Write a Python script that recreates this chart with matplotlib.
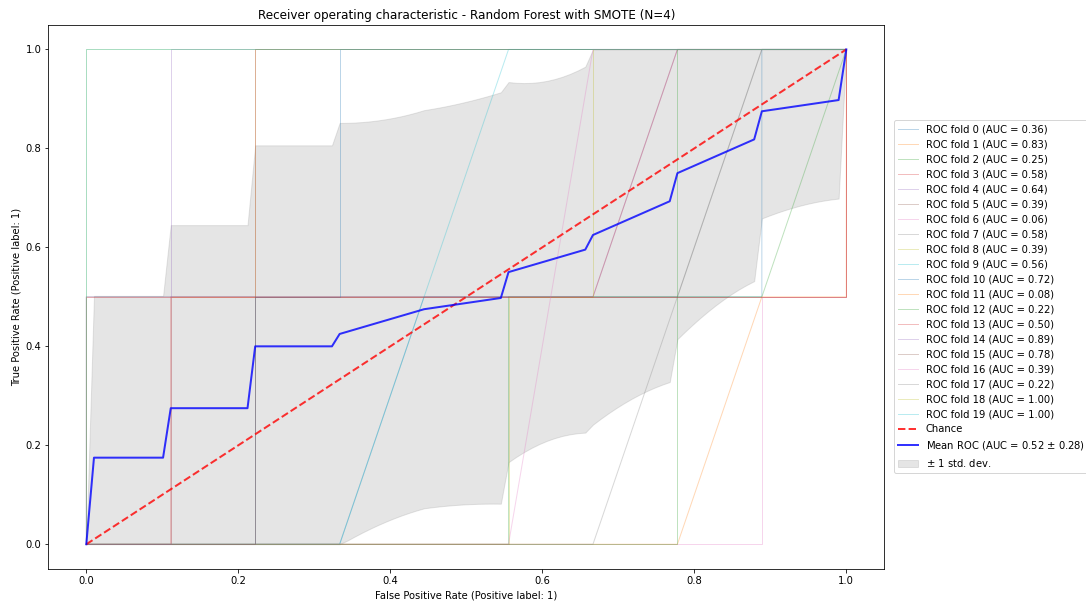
import numpy as np
import matplotlib
import matplotlib.pyplot as plt

matplotlib.use('Agg')

# ROC points of every fold (9 negatives, 2 positives per fold)
# fpr is given as number of negatives passed (divided by 9 below)
fold_fpr9 = [
    [0, 3, 4, 8, 8, 9],      # fold 0
    [0, 1, 1, 2, 2, 9],      # fold 1
    [0, 5, 5, 8, 9],         # fold 2
    [0, 1, 1, 6, 7, 9],      # fold 3
    [0, 0, 6, 7, 9],         # fold 4
    [0, 2, 2, 9, 9],         # fold 5
    [0, 8, 8, 9, 9],         # fold 6
    [0, 0, 7, 8, 9],         # fold 7
    [0, 5, 5, 6, 6, 9],      # fold 8
    [0, 3, 5, 9],            # fold 9
    [0, 2, 2, 3, 3, 9],      # fold 10
    [0, 7, 8, 9, 9],         # fold 11
    [0, 7, 7, 9],            # fold 12
    [0, 0, 9, 9],            # fold 13
    [0, 1, 1, 9],            # fold 14
    [0, 2, 2, 9],            # fold 15
    [0, 5, 6, 9],            # fold 16
    [0, 6, 8, 9],            # fold 17
    [0, 0, 9],               # fold 18
    [0, 0, 9],               # fold 19
]
fold_tpr = [
    [0, 0, 0.5, 0.5, 1, 1],
    [0, 0, 0.5, 0.5, 1, 1],
    [0, 0, 0.5, 0.5, 1],
    [0, 0, 0.5, 0.5, 1, 1],
    [0, 0.5, 0.5, 1, 1],
    [0, 0, 0.5, 0.5, 1],
    [0, 0, 0.5, 0.5, 1],
    [0, 0.5, 0.5, 1, 1],
    [0, 0, 0.5, 0.5, 1, 1],
    [0, 0, 1, 1],
    [0, 0, 0.5, 0.5, 1, 1],
    [0, 0, 0.5, 0.5, 1],
    [0, 0, 1, 1],
    [0, 0.5, 0.5, 1],
    [0, 0, 1, 1],
    [0, 0, 1, 1],
    [0, 0, 1, 1],
    [0, 0, 1, 1],
    [0, 1, 1],
    [0, 1, 1],
]

fig = plt.figure(figsize=(1086 / 72, 605 / 72), dpi=72)
ax = fig.add_axes([48.3 / 1086, 1 - 569 / 605, 836 / 1086, 544.3 / 605])

mean_fpr = np.linspace(0, 1, 100)
tprs = []
aucs = []
for i in range(len(fold_tpr)):
    fpr = np.array(fold_fpr9[i]) / 9
    tpr = np.array(fold_tpr[i], dtype=float)
    roc_auc = np.trapezoid(tpr, fpr)
    ax.plot(fpr, tpr, lw=1, alpha=0.3, label='ROC fold %d (AUC = %0.2f)' % (i, roc_auc))
    interp_tpr = np.interp(mean_fpr, fpr, tpr)
    interp_tpr[0] = 0.0
    tprs.append(interp_tpr)
    aucs.append(roc_auc)

ax.plot([0, 1], [0, 1], linestyle='--', lw=2, color='r', label='Chance', alpha=.8)

mean_tpr = np.mean(tprs, axis=0)
mean_tpr[-1] = 1.0
mean_auc = np.trapezoid(mean_tpr, mean_fpr)
std_auc = np.std(aucs)
ax.plot(mean_fpr, mean_tpr, color='b',
        label=r'Mean ROC (AUC = %0.2f $\pm$ %0.2f)' % (mean_auc, std_auc),
        lw=2, alpha=.8)

std_tpr = np.std(tprs, axis=0)
tprs_upper = np.minimum(mean_tpr + std_tpr, 1)
tprs_lower = np.maximum(mean_tpr - std_tpr, 0)
ax.fill_between(mean_fpr, tprs_lower, tprs_upper, color='grey', alpha=.2,
                label=r'$\pm$ 1 std. dev.')

ax.set(xlim=[-0.05, 1.05], ylim=[-0.05, 1.05],
       title='Receiver operating characteristic - Random Forest with SMOTE (N=4)')
ax.set_xlabel('False Positive Rate (Positive label: 1)')
ax.set_ylabel('True Positive Rate (Positive label: 1)')
ax.legend(loc='center left', bbox_to_anchor=(1.0116, 0.5), borderaxespad=0)

fig.savefig('out.png', dpi=72)
